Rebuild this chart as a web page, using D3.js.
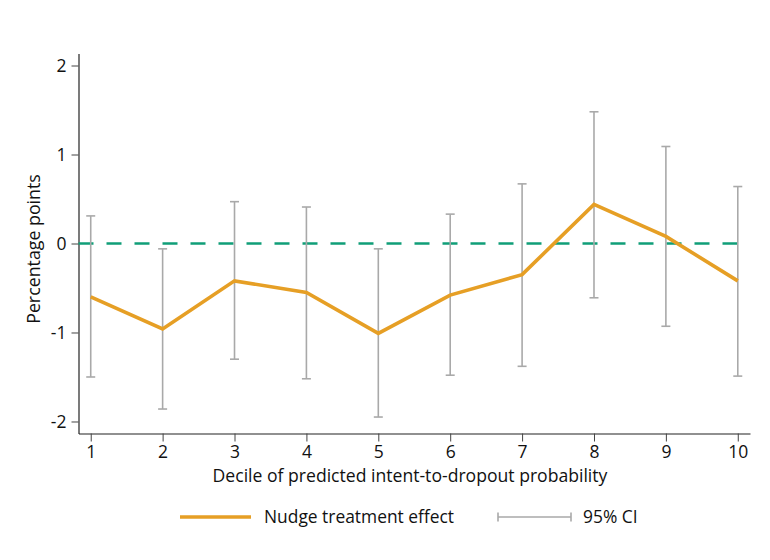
<!DOCTYPE html>
<html>
<head>
  <style>
    body { margin: 0; background: #fff; }
    text { font-family: "Open Sans", "Noto Sans", sans-serif; fill: #111; }
  </style>
</head>
<body>
  <script src="https://d3js.org/d3.v7.min.js"></script>
  <script>
// Chart values
var deciles = [1, 2, 3, 4, 5, 6, 7, 8, 9, 10];
var effect  = [-0.60, -0.96, -0.42, -0.55, -1.01, -0.58, -0.35, 0.44, 0.08, -0.42];
var ciLow   = [-1.50, -1.86, -1.30, -1.52, -1.95, -1.48, -1.38, -0.61, -0.93, -1.49];
var ciHigh  = [0.31, -0.06, 0.47, 0.41, -0.06, 0.33, 0.67, 1.48, 1.09, 0.64];
var yTicks  = [-2, -1, 0, 1, 2];

var orange = "#e69f25", green = "#109e78", grey = "#a9a9a9";

var svg = d3.select("body")
  .append("svg")
  .attr("width", 770)
  .attr("height", 560);

// Scales
var x = d3.scaleLinear()
  .domain([0.83, 10.17])
  .range([78.5, 750]);

var y = d3.scaleLinear()
  .domain([-2.135, 2.135])
  .range([433.5, 53.5]);

// Axes
var xAxis = svg.append("g")
  .attr("transform", "translate(0,433.5)")
  .call(d3.axisBottom(x).tickValues(deciles).tickSize(8).tickPadding(4).tickSizeOuter(0));

var yAxis = svg.append("g")
  .attr("transform", "translate(78.5,0)")
  .call(d3.axisLeft(y).tickValues(yTicks).tickSize(7).tickPadding(5).tickSizeOuter(0));

[xAxis, yAxis].forEach(function(g) {
  g.select(".domain").attr("stroke", "#222").attr("stroke-width", 1.2);
  g.selectAll(".tick line").attr("stroke", "#444");
  g.selectAll(".tick text").style("font-size", "17.5px").attr("fill", "#111");
});
yAxis.selectAll(".tick text").text(function(d) { return d < 0 ? "-" + Math.abs(d) : d; });

// Zero reference line
svg.append("line")
  .attr("x1", x(0.83)).attr("x2", x(10.1))
  .attr("y1", y(0)).attr("y2", y(0))
  .attr("stroke", green)
  .attr("stroke-width", 2.6)
  .attr("stroke-dasharray", "15,13");

// Confidence intervals
var ci = svg.append("g").attr("stroke", grey).attr("stroke-width", 1.6);
deciles.forEach(function(d, i) {
  ci.append("line")
    .attr("x1", x(d)).attr("x2", x(d))
    .attr("y1", y(ciLow[i])).attr("y2", y(ciHigh[i]));
  [ciLow[i], ciHigh[i]].forEach(function(v) {
    ci.append("line")
      .attr("x1", x(d) - 4.5).attr("x2", x(d) + 4.5)
      .attr("y1", y(v)).attr("y2", y(v));
  });
});

// Treatment effect line
var line = d3.line()
  .x(function(d, i) { return x(deciles[i]); })
  .y(function(d) { return y(d); });

svg.append("path")
  .datum(effect)
  .attr("d", line)
  .attr("fill", "none")
  .attr("stroke", orange)
  .attr("stroke-width", 3.6)
  .attr("stroke-linejoin", "miter");

// Axis titles
svg.append("text")
  .attr("x", 410)
  .attr("y", 482)
  .attr("text-anchor", "middle")
  .style("font-size", "17.6px")
  .text("Decile of predicted intent-to-dropout probability");

svg.append("text")
  .attr("transform", "translate(40,249) rotate(-90)")
  .attr("text-anchor", "middle")
  .style("font-size", "17.8px")
  .text("Percentage points");

// Legend
var leg = svg.append("g");
leg.append("line")
  .attr("x1", 180).attr("x2", 251).attr("y1", 517).attr("y2", 517)
  .attr("stroke", orange).attr("stroke-width", 3.6);
leg.append("text")
  .attr("x", 264).attr("y", 523)
  .style("font-size", "17.4px")
  .text("Nudge treatment effect");

leg.append("line")
  .attr("x1", 498).attr("x2", 571).attr("y1", 517).attr("y2", 517)
  .attr("stroke", grey).attr("stroke-width", 1.6);
[498, 571].forEach(function(px) {
  leg.append("line")
    .attr("x1", px).attr("x2", px).attr("y1", 512.5).attr("y2", 521.5)
    .attr("stroke", grey).attr("stroke-width", 1.6);
});
leg.append("text")
  .attr("x", 583).attr("y", 523)
  .style("font-size", "17.4px")
  .text("95% CI");
  </script>
</body>
</html>
